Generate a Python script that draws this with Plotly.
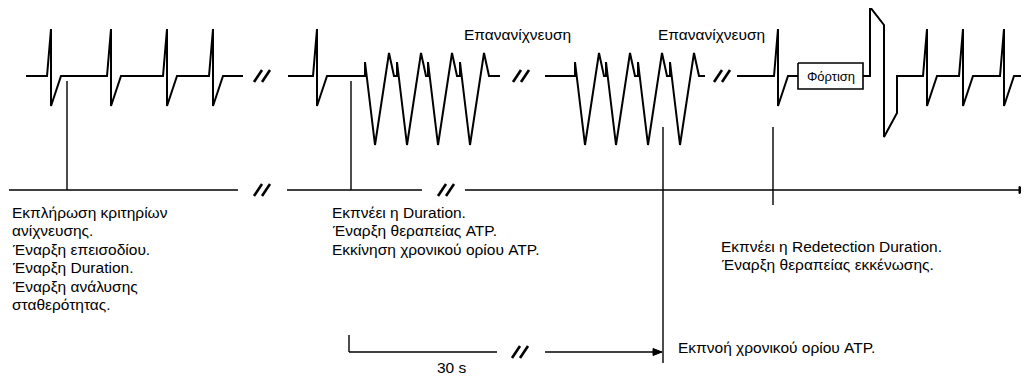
import plotly.graph_objects as go

# ---------------- data (diagram values, pixel space of 1029x376 canvas) ----------------
BASE_Y = 76                      # ECG baseline level
NORMAL_BEAT_DX = [0, 4, 4, 14]   # normal beat template (offset from onset)
NORMAL_BEAT_Y = [76, 29, 106, 76]
TACHY_DX = [0, 0, 10, 24, 29]    # paced tachycardia complex template (offset from spike)
TACHY_Y = [76, 62, 145, 53, 76]
SHOCK_DX = [0, 0, 14, 14, 27, 27]
SHOCK_Y = [76, 7, 25, 137, 113, 76]

SEG1_RANGE = [26, 243];  SEG1_BEATS = [47, 107, 163, 209]
SEG2_RANGE = [288, 500]; SEG2_BEATS = [313]; SEG2_SPIKES = [365, 397, 428, 460]
SEG3_RANGE = [545, 705]; SEG3_SPIKES = [575, 606, 638, 670]
SEG4_START = 737;        SEG4_BEATS_PRE = [774]
CHARGE_BOX = [798, 863, 63, 89]
SHOCK_X = 870
SEG4_BEATS_POST = [923, 959, 1000]; SEG4_END = 1029

ECG_BREAKS = [262, 521, 722]
AXIS_Y = 190
AXIS_SEGMENTS = [[9, 238], [287, 422], [465, 1028]]
AXIS_BREAKS = [262, 446]
MARKER_LINES = [[67, 81, 190], [351, 81, 190], [663, 127, 363], [773, 127, 205]]

BRACKET_X0 = 349; BRACKET_TOP = 335; BRACKET_Y = 352
BRACKET_SEGMENTS = [[349, 497], [545, 662]]
BRACKET_BREAK = 520

TOP_LABELS = ["Επανανίχνευση", "Επανανίχνευση"]
TOP_LABEL_X = [517, 711]; TOP_LABEL_Y = 34
BLOCK1 = ["Εκπλήρωση κριτηρίων", "ανίχνευσης.", "Έναρξη επεισοδίου.",
          "Έναρξη Duration.", "Έναρξη ανάλυσης", "σταθερότητας."]
BLOCK2 = ["Εκπνέει η Duration.", "Έναρξη θεραπείας ATP.", "Εκκίνηση χρονικού ορίου ATP."]
BLOCK3 = ["Εκπνέει η Redetection Duration.", "Έναρξη θεραπείας εκκένωσης."]
BLOCK_POS = [(10, 212), (330, 212), (719, 246)]
LINE_STEP = 18.5
BOTTOM_TEXT = "Εκπνοή χρονικού ορίου ATP."; BOTTOM_POS = (676, 347)
SPAN_TEXT = "30 s"; SPAN_POS = (452, 367)
BOX_TEXT = "Φόρτιση"

FONT = "Liberation Sans, Arial, sans-serif"
PAGE_MARGIN = 8   # default body margin of the written html page

# ---------------- build ECG polyline ----------------
def ecg_segment(start, end, beats=(), spikes=()):
    xs, ys = [start], [BASE_Y]
    events = [(b, "n") for b in beats] + [(s, "t") for s in spikes]
    for pos, kind in sorted(events):
        dx, dy = (NORMAL_BEAT_DX, NORMAL_BEAT_Y) if kind == "n" else (TACHY_DX, TACHY_Y)
        xs += [pos + d for d in dx]
        ys += list(dy)
    if end is not None:
        xs.append(end); ys.append(BASE_Y)
    return xs, ys

fig = go.Figure()

def line(xs, ys, w=2.0):
    fig.add_trace(go.Scatter(x=xs, y=ys, mode="lines", line=dict(color="black", width=w),
                             hoverinfo="skip", showlegend=False, cliponaxis=False))

for rng, beats, spikes in [(SEG1_RANGE, SEG1_BEATS, []), (SEG2_RANGE, SEG2_BEATS, SEG2_SPIKES),
                           (SEG3_RANGE, [], SEG3_SPIKES)]:
    xs, ys = ecg_segment(rng[0], rng[1], beats, spikes)
    line(xs, ys)

# segment 4: beat, charge box, shock, beats
xs, ys = ecg_segment(SEG4_START, CHARGE_BOX[0], SEG4_BEATS_PRE)
line(xs, ys)
bx0, bx1, by0, by1 = CHARGE_BOX
line([bx0, bx1, bx1, bx0, bx0], [by0, by0, by1, by1, by0], 1.6)
xs = [bx1] + [SHOCK_X + d for d in SHOCK_DX]
ys = [BASE_Y] + SHOCK_Y
x2, y2 = ecg_segment(SHOCK_X + SHOCK_DX[-1], SEG4_END, SEG4_BEATS_POST)
line(xs + x2, ys + y2)

# break marks "//"
def break_mark(cx, cy):
    for off in (-4, 4):
        line([cx + off - 4, cx + off + 4], [cy + 6, cy - 6], 2.6)

for bx in ECG_BREAKS:
    break_mark(bx, BASE_Y)
for bx in AXIS_BREAKS:
    break_mark(bx, AXIS_Y)
break_mark(BRACKET_BREAK, BRACKET_Y)

# time axis
for a, b in AXIS_SEGMENTS:
    line([a, b], [AXIS_Y, AXIS_Y], 1.4)

def arrow_head(tx, ty):
    fig.add_trace(go.Scatter(x=[tx, tx - 9, tx - 9, tx], y=[ty, ty - 3.5, ty + 3.5, ty],
                             mode="lines", fill="toself", fillcolor="black",
                             line=dict(color="black", width=1), hoverinfo="skip",
                             showlegend=False, cliponaxis=False))

arrow_head(AXIS_SEGMENTS[-1][1], AXIS_Y)

# vertical marker lines
for x, y0, y1 in MARKER_LINES:
    line([x, x], [y0, y1], 1.4)

# 30 s bracket
line([BRACKET_X0, BRACKET_X0], [BRACKET_TOP, BRACKET_Y], 1.4)
for a, b in BRACKET_SEGMENTS:
    line([a, b], [BRACKET_Y, BRACKET_Y], 1.4)
arrow_head(BRACKET_SEGMENTS[-1][1], BRACKET_Y)

# texts
def text(t, x, y, anchor="left", size=15.5):
    fig.add_annotation(x=x, y=y, text=t, showarrow=False, xanchor=anchor, yanchor="middle",
                       font=dict(family=FONT, size=size, color="black"))

for t, x in zip(TOP_LABELS, TOP_LABEL_X):
    text(t, x, TOP_LABEL_Y, "center")
for block, (x, y) in zip([BLOCK1, BLOCK2, BLOCK3], BLOCK_POS):
    for i, t in enumerate(block):
        text(t, x, y + i * LINE_STEP)
text(BOTTOM_TEXT, *BOTTOM_POS)
text(SPAN_TEXT, *SPAN_POS, anchor="center")
text(BOX_TEXT, (bx0 + bx1) / 2, (by0 + by1) / 2, "center", 13)

W, H = 1029, 376
fig.update_layout(width=W - PAGE_MARGIN, height=H - PAGE_MARGIN,
                  margin=dict(l=0, r=0, t=0, b=0),
                  paper_bgcolor="white", plot_bgcolor="white",
                  xaxis=dict(range=[PAGE_MARGIN, W], visible=False, fixedrange=True),
                  yaxis=dict(range=[H, PAGE_MARGIN], visible=False, fixedrange=True))
fig.write_html("out.html", config={"displayModeBar": False})
